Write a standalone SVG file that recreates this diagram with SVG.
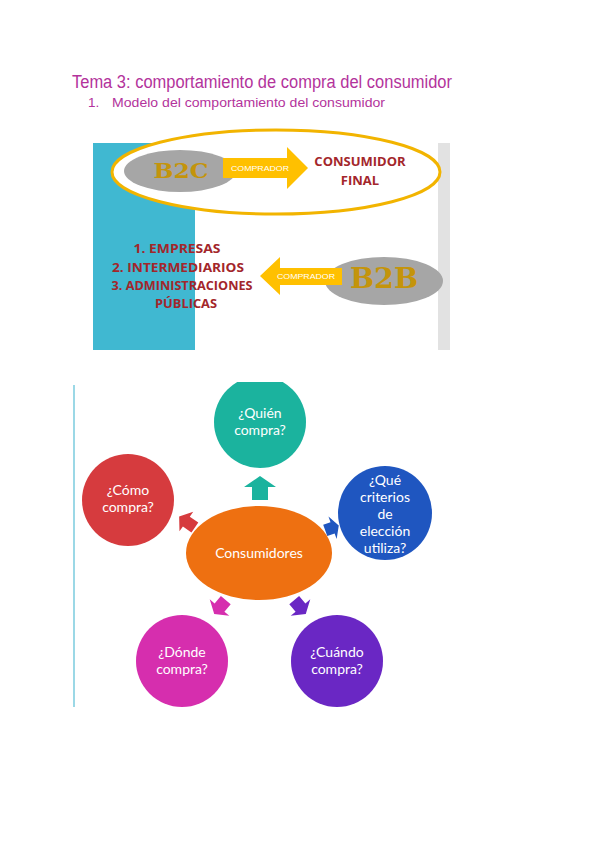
<svg xmlns="http://www.w3.org/2000/svg" width="600" height="848" viewBox="0 0 600 848">
<defs>
<style>
.title{font-family:"Liberation Sans","DejaVu Sans",sans-serif;fill:#B3339C}
.red{font-family:"Open Sans","Liberation Sans",sans-serif;font-weight:bold;fill:#A3262B;font-size:13px;text-anchor:middle}
.comp{font-family:"Liberation Sans",sans-serif;fill:#ffffff;font-size:7.5px;text-anchor:middle}
.b2{font-family:"DejaVu Serif",serif;font-weight:bold;fill:#C4940B;text-anchor:middle}
.ct{font-family:Lato,"Open Sans",sans-serif;fill:#ffffff;font-size:14px;text-anchor:middle}
</style>
<path id="arr" d="M0,-12 L16,-1 L8,-1 L8,12 L-8,12 L-8,-1 L-16,-1 Z"/>
<clipPath id="topclip"><rect x="0" y="382" width="600" height="466"/></clipPath>
</defs>
<rect width="600" height="848" fill="#ffffff"/>

<g id="title">
<text class="title" x="72" y="88" font-size="18" textLength="380" lengthAdjust="spacingAndGlyphs">Tema 3: comportamiento de compra del consumidor</text>
<text class="title" x="88" y="107" font-size="13.5">1.</text>
<text class="title" x="112" y="107" font-size="13.5" textLength="273" lengthAdjust="spacingAndGlyphs">Modelo del comportamiento del consumidor</text>
</g>

<g id="background">
<rect x="93" y="143" width="102" height="207" fill="#40B8D1"/>
<rect x="438" y="143" width="12" height="207" fill="#E2E2E2"/>
</g>

<g id="b2c-group">
<ellipse cx="276" cy="172" rx="164" ry="42" fill="#ffffff" stroke="#F2B400" stroke-width="3"/>
</g>
<g id="b2c">
<ellipse cx="180" cy="171" rx="56" ry="21" fill="#A6A6A6"/>
<text class="b2" x="181" y="178" font-size="21" textLength="55" lengthAdjust="spacingAndGlyphs">B2C</text>
</g>
<g id="consumidor-final">
<text class="red" x="360" y="166">CONSUMIDOR</text>
<text class="red" x="360" y="185">FINAL</text>
</g>
<g id="b2b">
<ellipse cx="384" cy="281" rx="59" ry="24" fill="#A6A6A6"/>
<text class="b2" x="384" y="288" font-size="27" textLength="68" lengthAdjust="spacingAndGlyphs">B2B</text>
</g>
<g id="lista">
<text class="red" x="177" y="253" textLength="87" lengthAdjust="spacingAndGlyphs">1.  EMPRESAS</text>
<text class="red" x="178" y="272" textLength="132" lengthAdjust="spacingAndGlyphs">2.  INTERMEDIARIOS</text>
<text class="red" x="182" y="290" textLength="141" lengthAdjust="spacingAndGlyphs">3.  ADMINISTRACIONES</text>
<text class="red" x="186" y="308" textLength="62" lengthAdjust="spacingAndGlyphs">PÚBLICAS</text>
</g>

<g id="connectors-top">
<path d="M223,158 L287,158 L287,147 L308,168 L287,189 L287,178 L223,178 Z" fill="#FFC000"/>
<text class="comp" x="260" y="171" textLength="58" lengthAdjust="spacingAndGlyphs">COMPRADOR</text>
<path d="M342,268 L280,268 L280,257 L260,276 L280,295 L280,285 L342,285 Z" fill="#FFC000"/>
<text class="comp" x="306" y="279" textLength="58" lengthAdjust="spacingAndGlyphs">COMPRADOR</text>
</g>

<line x1="74" y1="385" x2="74" y2="707" stroke="#9BD8E6" stroke-width="2"/>

<g id="connectors">
<use href="#arr" fill="#1BB39E" transform="translate(260,488)"/>
<use href="#arr" fill="#D63B3E" transform="translate(187,522) rotate(-55) scale(0.75,0.8)"/>
<use href="#arr" fill="#1F56C0" transform="translate(332,528) rotate(70) scale(0.75,0.6)"/>
<use href="#arr" fill="#D62EAE" transform="translate(220,607) rotate(-140) scale(0.8,0.75)"/>
<use href="#arr" fill="#6A27C4" transform="translate(300,607) rotate(140) scale(0.8,0.75)"/>
</g>

<g id="quien">
<circle cx="260" cy="422" r="46" fill="#1BB39E" clip-path="url(#topclip)"/>
<text class="ct" x="260" y="418">¿Quién</text>
<text class="ct" x="260" y="435">compra?</text>
</g>
<g id="como">
<circle cx="128" cy="500" r="46" fill="#D63B3E"/>
<text class="ct" x="128" y="495">¿Cómo</text>
<text class="ct" x="128" y="512">compra?</text>
</g>
<g id="que">
<circle cx="385" cy="513" r="47" fill="#1F56C0"/>
<text class="ct" x="385" y="485">¿Qué</text>
<text class="ct" x="385" y="502">criterios</text>
<text class="ct" x="385" y="519">de</text>
<text class="ct" x="385" y="536">elección</text>
<text class="ct" x="385" y="553">utiliza?</text>
</g>
<g id="consumidores">
<ellipse cx="259" cy="553" rx="73" ry="47" fill="#EE7011"/>
<text class="ct" x="259" y="558">Consumidores</text>
</g>
<g id="donde">
<circle cx="182" cy="661" r="46" fill="#D62EAE"/>
<text class="ct" x="182" y="657">¿Dónde</text>
<text class="ct" x="182" y="674">compra?</text>
</g>
<g id="cuando">
<circle cx="337" cy="661" r="46" fill="#6A27C4"/>
<text class="ct" x="337" y="657">¿Cuándo</text>
<text class="ct" x="337" y="674">compra?</text>
</g>
</svg>
